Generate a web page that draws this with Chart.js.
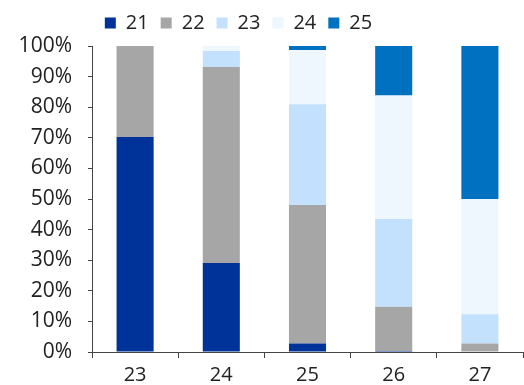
<!DOCTYPE html>
<html>
<head>
<meta charset="utf-8">
<script src="https://cdn.jsdelivr.net/npm/chart.js@4/dist/chart.umd.min.js"></script>
<style>
  html, body { margin: 0; padding: 0; background: #fff; }
  #wrap { width: 524px; height: 385px; position: relative; }
</style>
</head>
<body>
<div id="wrap"><canvas id="c" width="524" height="385"></canvas></div>
<script>
// Categories along the x axis
const categories = ['23', '24', '25', '26', '27'];

// Share of each group per category, in percent
const s21 = [70.3, 29.1, 2.8, 0.3, 0.0];
const s22 = [29.7, 64.0, 45.2, 14.5, 2.8];
const s23 = [0.0, 5.3, 33.0, 28.7, 9.5];
const s24 = [0.0, 1.6, 17.7, 40.3, 37.7];
const s25 = [0.0, 0.0, 1.3, 16.2, 50.0];

const seriesNames = ['21', '22', '23', '24', '25'];
const seriesColors = ['#003399', '#A6A6A6', '#C3E0FC', '#EEF6FE', '#0070C0'];
const seriesData = [s21, s22, s23, s24, s25];

const datasets = seriesNames.map((name, i) => ({
  label: name,
  data: seriesData[i],
  backgroundColor: seriesColors[i],
  borderWidth: 0,
  barPercentage: 0.86,
  categoryPercentage: 0.5
}));

const family = '"Open Sans", "DejaVu Sans", sans-serif';

// Nudge the legend row left of the canvas centre and slightly upward
const legendShift = {
  id: 'legendShift',
  afterLayout(chart) {
    const lg = chart.legend;
    if (lg) {
      lg.left -= 23; lg.right -= 23;
      lg.top -= 3; lg.bottom -= 3;
    }
  }
};

new Chart(document.getElementById('c'), {
  type: 'bar',
  data: { labels: categories, datasets },
  options: {
    responsive: false,
    animation: false,
    layout: { padding: { left: 0, right: 1, top: 4, bottom: 0 } },
    plugins: {
      legend: {
        position: 'top',
        labels: {
          color: '#222',
          font: { family, size: 20 },
          boxWidth: 11,
          boxHeight: 11,
          padding: 12
        }
      },
      tooltip: { enabled: false }
    },
    scales: {
      x: {
        stacked: true,
        grid: { display: true, drawOnChartArea: false, drawTicks: true, tickLength: 6, color: '#444' },
        border: { display: true, color: '#444', width: 1 },
        ticks: { color: '#222', font: { family, size: 20 }, padding: 5 },
        afterFit: s => { s.height = 33; }
      },
      y: {
        stacked: true,
        min: 0,
        max: 100,
        grid: { display: true, drawOnChartArea: false, drawTicks: true, tickLength: 4, color: '#444' },
        border: { display: true, color: '#444', width: 1 },
        ticks: {
          stepSize: 10,
          color: '#222',
          font: { family, size: 21 },
          padding: 16,
          callback: v => v + '%'
        },
        afterFit: s => { s.width = 92; }
      }
    }
  },
  plugins: [legendShift]
});
</script>
</body>
</html>
